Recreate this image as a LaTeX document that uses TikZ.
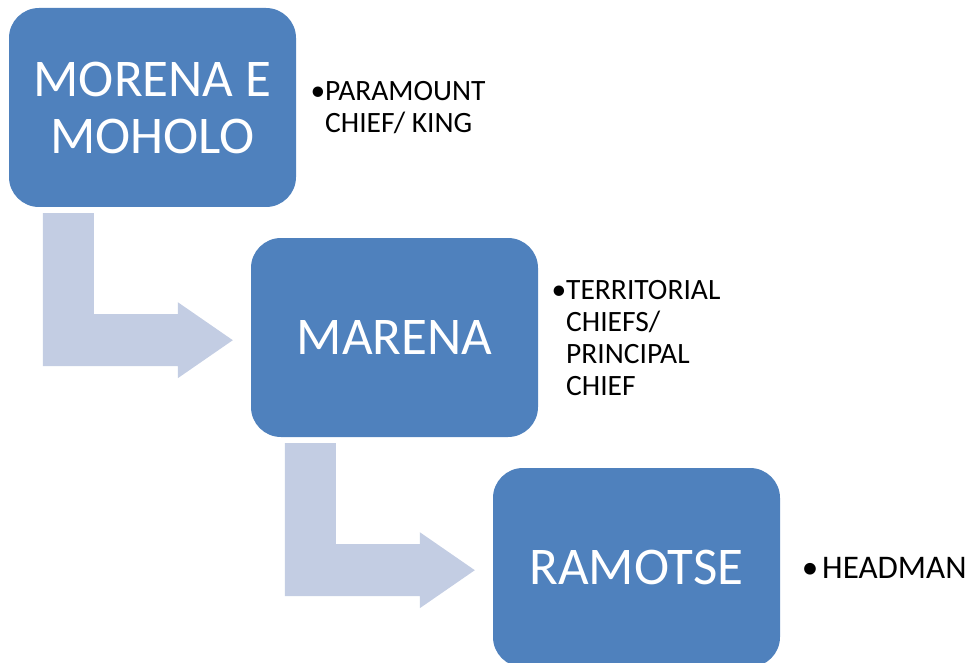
\documentclass[tikz,border=0pt]{standalone}
\usepackage{fontspec}
\setmainfont{Carlito}
\definecolor{boxblue}{HTML}{4F81BD}
\definecolor{arrowblue}{HTML}{C3CDE3}
\begin{document}
\begin{tikzpicture}[x=1pt,y=-1pt,
  levelbox/.style={rectangle, rounded corners=30pt, fill=boxblue, draw=none,
    minimum width=287pt, minimum height=199pt, inner sep=0pt, align=center,
    text=white, font=\fontsize{53}{57}\selectfont},
  bentarrow/.style={fill=arrowblue, draw=none},
  bullettext/.style={anchor=north west, inner sep=0pt, align=left,
    font=\fontsize{29.5}{32}\selectfont, text=black}]
\useasboundingbox (0,0) rectangle (974,663);
\node[levelbox] (b1) at (152.5,107.5) {MORENA E\\MOHOLO};
\node[levelbox] (b2) at (394.5,337.5) {MARENA};
\node[levelbox] (b3) at (636.5,567.5) {RAMOTSE};
\begin{scope}[shift={(b1.south west)}]
  \fill[bentarrow] (34,6) -- (85,6) -- (85,107) -- (169,107) -- (169,95) -- (224,133)
    -- (169,171) -- (169,159) -- (34,159) -- cycle;
\end{scope}
\begin{scope}[shift={(b2.south west)}]
  \fill[bentarrow] (34,6) -- (85,6) -- (85,107) -- (169,107) -- (169,95) -- (224,133)
    -- (169,171) -- (169,159) -- (34,159) -- cycle;
\end{scope}
\node[bullettext] (l1) at (325,81.5) {\llap{•}PARAMOUNT\\CHIEF/ KING};
\node[bullettext] (l2) at (566,280.5) {\llap{•}TERRITORIAL\\CHIEFS/\\PRINCIPAL\\CHIEF};
\node[bullettext, anchor=base west, font=\fontsize{33}{36}\selectfont] (l3) at (822,578) {\llap{•\hspace{4pt}}HEADMAN};
\end{tikzpicture}
\end{document}
